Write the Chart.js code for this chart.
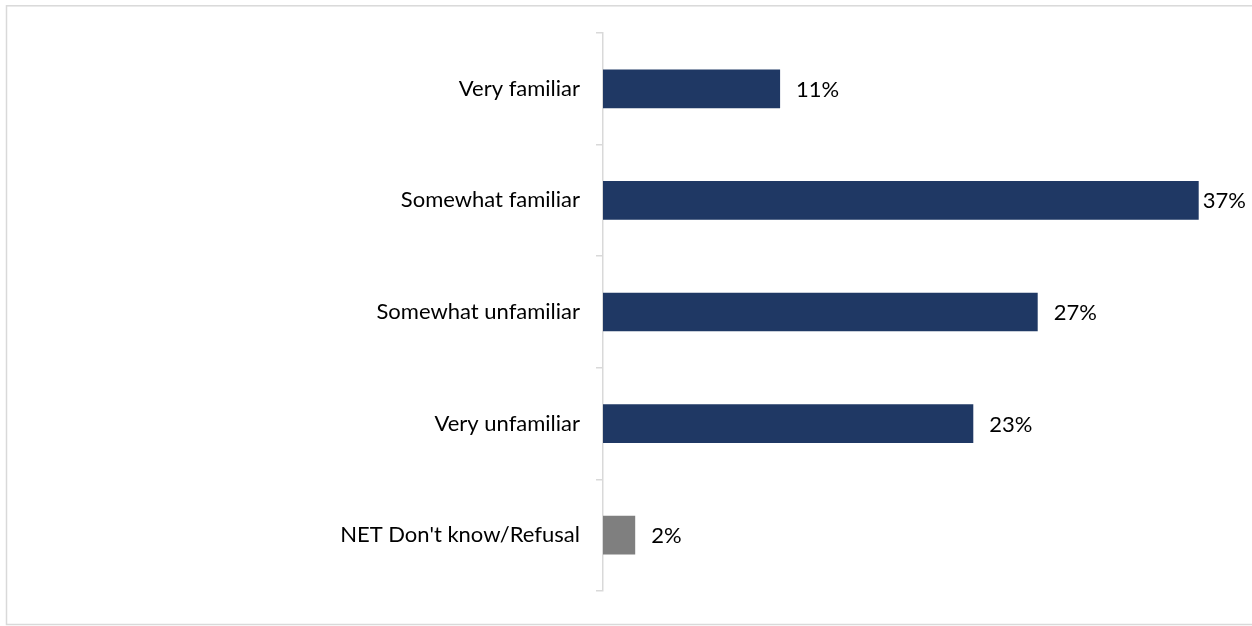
<!DOCTYPE html>
<html>
<head>
<meta charset="utf-8">
<script src="https://cdn.jsdelivr.net/npm/chart.js@4"></script>
<style>
  html, body { margin: 0; padding: 0; background: #fff; }
  #wrap { width: 1252px; height: 626px; position: relative; }
</style>
</head>
<body>
<div id="wrap"><canvas id="c"></canvas></div>
<script>
const categories = ["Very familiar", "Somewhat familiar", "Somewhat unfamiliar", "Very unfamiliar", "NET Don't know/Refusal"];
const values = [11, 37, 27, 23, 2];
const barColors = ["#1F3864", "#1F3864", "#1F3864", "#1F3864", "#7F7F7F"];
const valueLabels = ["11%", "37%", "27%", "23%", "2%"];

const FONT = "Lato, 'Open Sans', sans-serif";
const FONT_SIZE = 22;

const borderPlugin = {
  id: 'outerBorder',
  beforeDraw(chart) {
    const ctx = chart.ctx;
    ctx.save();
    ctx.strokeStyle = '#d9d9d9';
    ctx.lineWidth = 1.5;
    ctx.strokeRect(6.5, 5.8, 1260, 618.7);
    ctx.restore();
  }
};

const labelPlugin = {
  id: 'valueLabels',
  afterDatasetsDraw(chart) {
    const ctx = chart.ctx;
    const meta = chart.getDatasetMeta(0);
    ctx.save();
    ctx.font = FONT_SIZE + 'px ' + FONT;
    ctx.fillStyle = '#000';
    ctx.textBaseline = 'middle';
    ctx.textAlign = 'left';
    meta.data.forEach((bar, i) => {
      const txt = valueLabels[i];
      const w = ctx.measureText(txt).width;
      let x = bar.x + 16;
      x = Math.min(x, chart.width - w - 6);
      ctx.fillText(txt, x, bar.y + 1);
    });
    ctx.restore();
  }
};

new Chart(document.getElementById('c'), {
  type: 'bar',
  data: {
    labels: categories,
    datasets: [{
      data: values,
      backgroundColor: barColors,
      borderWidth: 0,
      barPercentage: 0.347,
      categoryPercentage: 1.0
    }]
  },
  options: {
    indexAxis: 'y',
    responsive: true,
    maintainAspectRatio: false,
    animation: false,
    events: [],
    layout: { padding: { top: 33, bottom: 35, left: 0, right: 5 } },
    plugins: { legend: { display: false }, tooltip: { enabled: false } },
    scales: {
      x: { display: false, min: 0, max: 40 },
      y: {
        afterFit(scale) { scale.width = 603; },
        grid: { display: true, drawOnChartArea: false, drawTicks: true, tickLength: 7, color: '#d9d9d9', lineWidth: 1.5 },
        border: { display: true, color: '#d9d9d9', width: 1.5 },
        ticks: { color: '#000', padding: 16, font: { family: FONT, size: FONT_SIZE } }
      }
    }
  },
  plugins: [borderPlugin, labelPlugin]
});
</script>
</body>
</html>
